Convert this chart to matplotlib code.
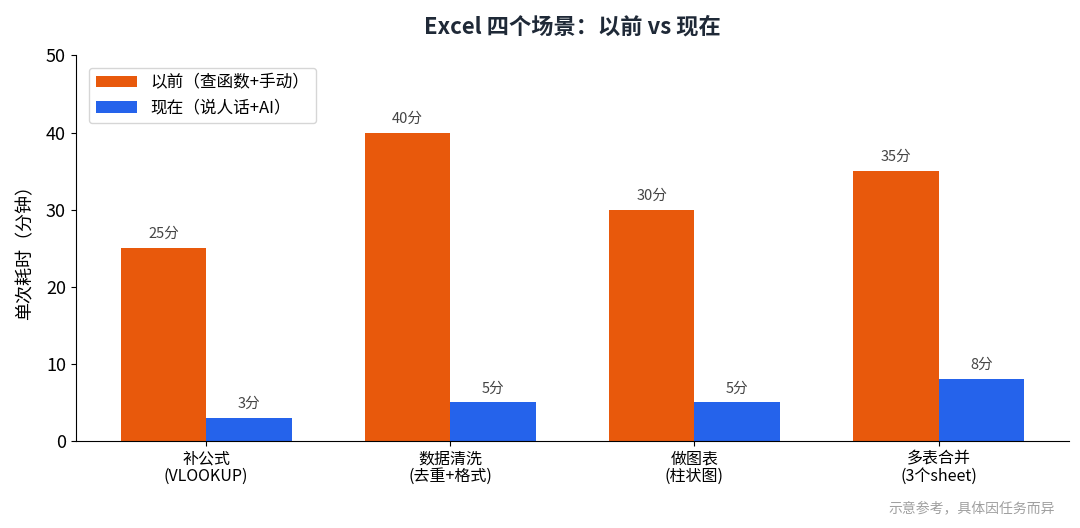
import matplotlib.pyplot as plt
import numpy as np

plt.rcParams['font.family'] = ['Noto Sans CJK SC', 'DejaVu Sans']

scenes = ['补公式\n(VLOOKUP)', '数据清洗\n(去重+格式)', '做图表\n(柱状图)', '多表合并\n(3个sheet)']
before = [25, 40, 30, 35]
after = [3, 5, 5, 8]
series_names = ['以前（查函数+手动）', '现在（说人话+AI）']
colors = ['#E8590C', '#2563EB']

fig, ax = plt.subplots(figsize=(10.8, 5.28), dpi=100)
x = np.arange(len(scenes))
w = 0.35

b1 = ax.bar(x - w / 2, before, w, color=colors[0], label=series_names[0])
b2 = ax.bar(x + w / 2, after, w, color=colors[1], label=series_names[1])

for bars in (b1, b2):
    for rect in bars:
        h = rect.get_height()
        ax.annotate(f"{h:g}分", (rect.get_x() + rect.get_width() / 2, h),
                    xytext=(0, 5), textcoords='offset points',
                    ha='center', va='bottom', fontsize=10.5, color='#444444')

ax.set_xticks(x)
ax.set_xticklabels(scenes, fontsize=11.5, linespacing=1.0)
ax.set_ylim(0, 50)
ax.set_yticks([0, 10, 20, 30, 40, 50])
ax.tick_params(axis='y', labelsize=13)
ax.set_ylabel('单次耗时（分钟）', fontsize=13, labelpad=8)
ax.set_title('Excel 四个场景：以前 vs 现在', fontsize=16, fontweight='bold',
             color='#1F2937', pad=16)
ax.spines['top'].set_visible(False)
ax.spines['right'].set_visible(False)
ax.legend(loc='upper left', fontsize=12, handlelength=2.5,
          bbox_to_anchor=(0.005, 0.99))

fig.text(0.977, 0.025, '示意参考，具体因任务而异', ha='right', va='bottom',
         fontsize=10, color='#A0A0A0')

plt.subplots_adjust(left=0.07, right=0.99, top=0.895, bottom=0.165)
plt.savefig('out.png')
